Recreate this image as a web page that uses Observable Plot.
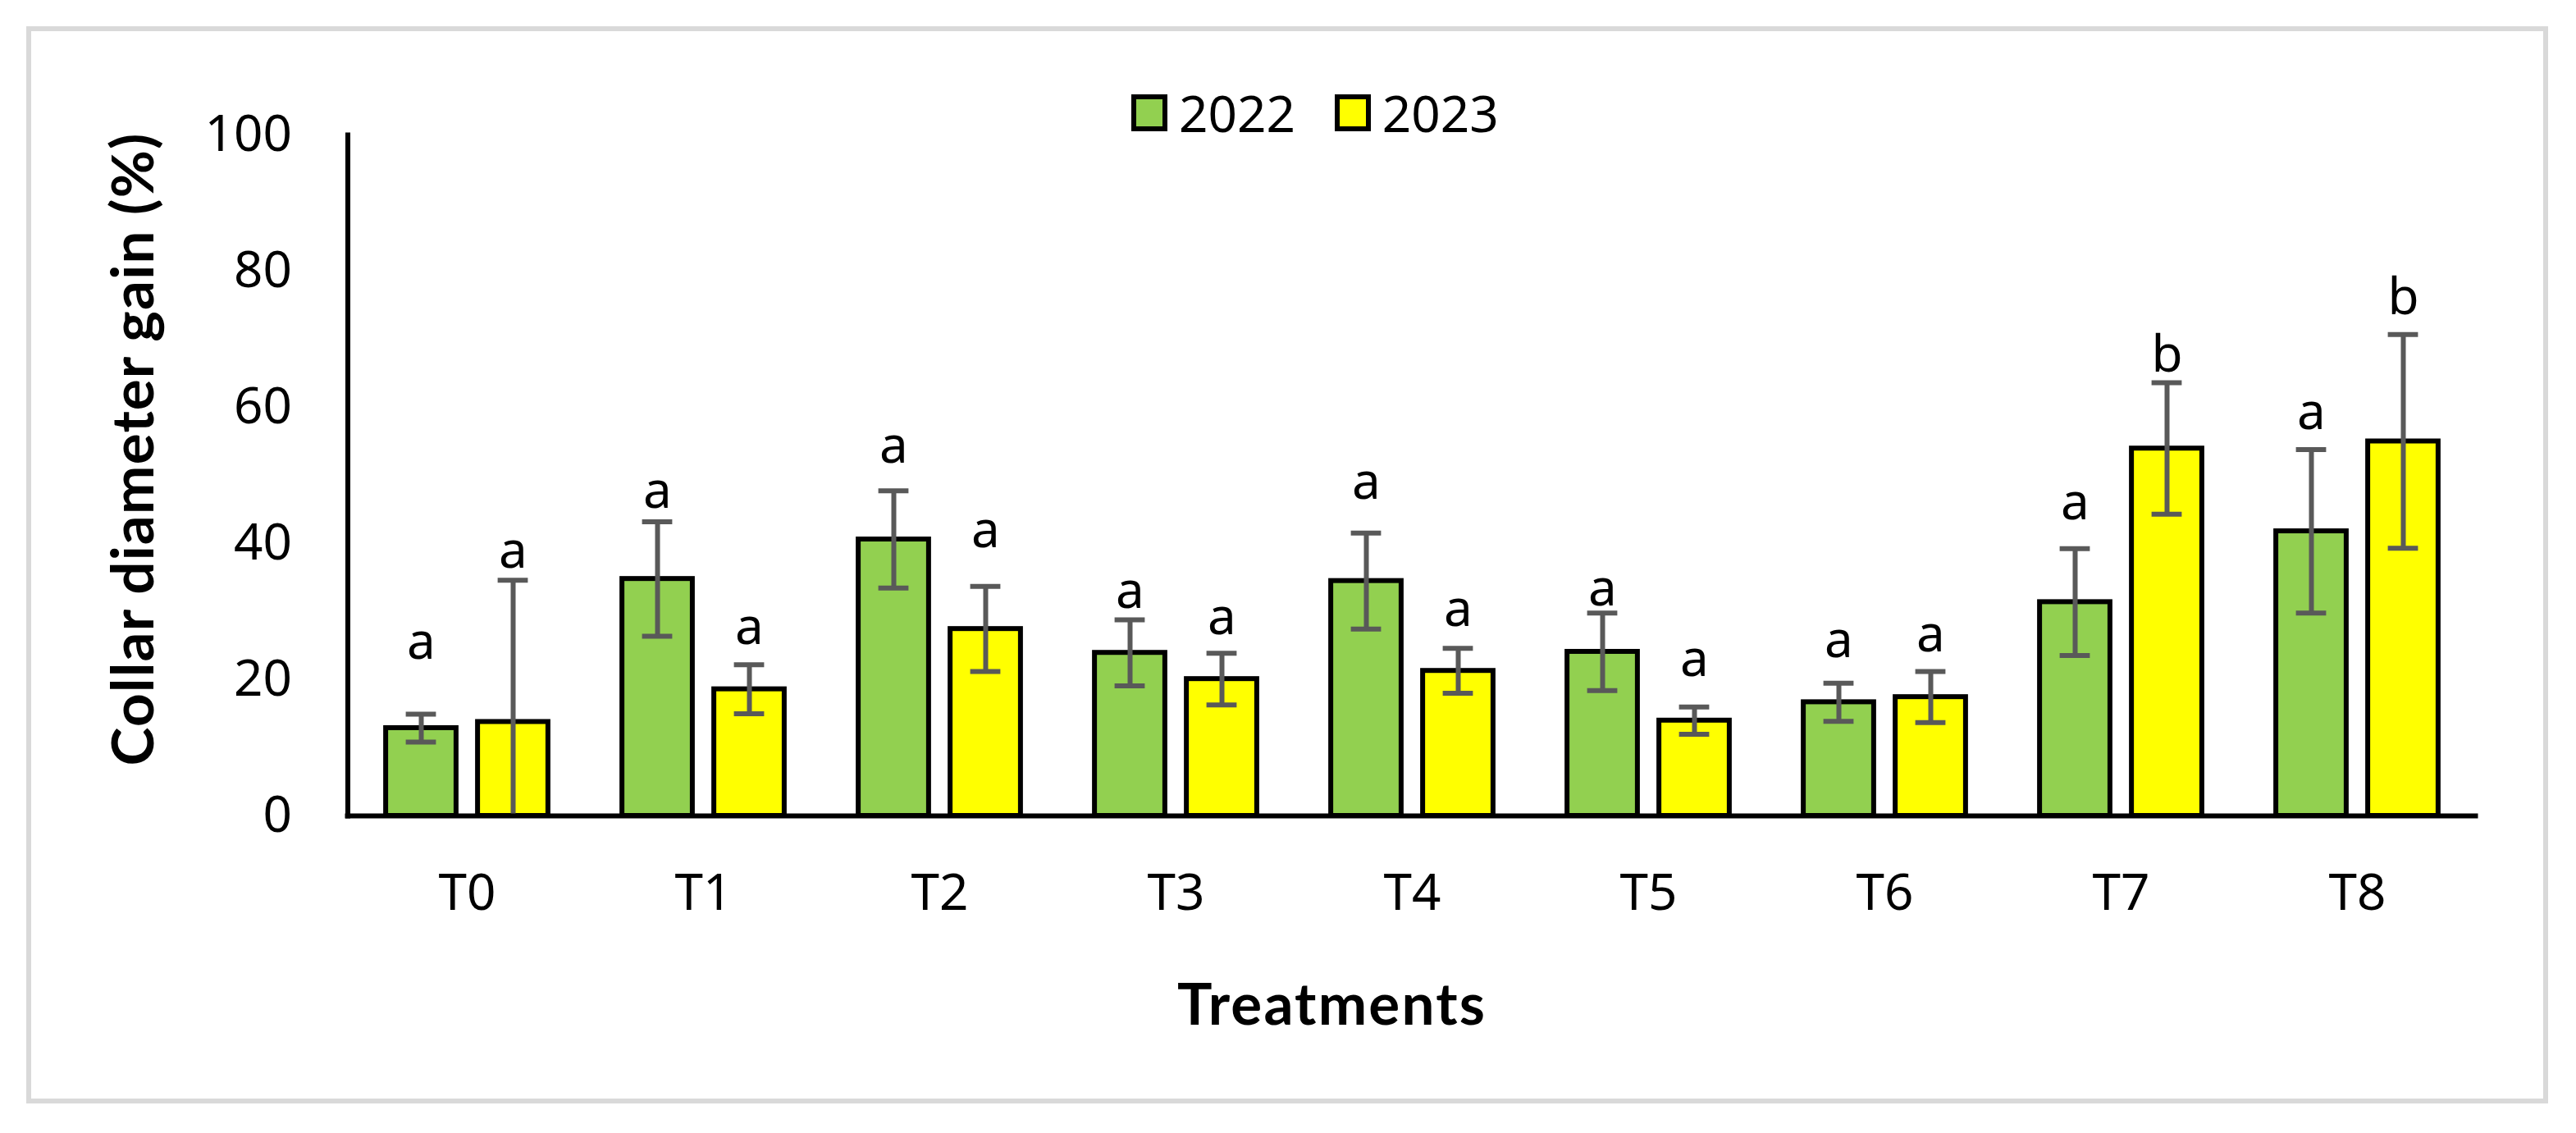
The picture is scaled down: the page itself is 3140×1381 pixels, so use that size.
<!DOCTYPE html>
<html>
<head>
<meta charset="utf-8">
<script src="https://cdn.jsdelivr.net/npm/d3@7"></script>
<script src="https://cdn.jsdelivr.net/npm/@observablehq/plot@0.6"></script>
<style>
html, body { margin: 0; padding: 0; background: #fff; }
#wrap { position: relative; width: 3140px; height: 1381px; overflow: hidden; background: #fff; }
#frame { position: absolute; left: 32px; top: 32px; width: 3074px; height: 1313px; border: 6px solid #d9d9d9; box-sizing: border-box; }
#chart { position: absolute; left: 0; top: 0; }
#legend { position: absolute; left: 1382px; top: 107px; height: 60px; display: flex; align-items: center; }
#legend .lg-swatches { margin: 0 !important; font-family: "Noto Sans", sans-serif !important; font-size: 62px !important; color: #000 !important; min-height: 0 !important; }
#legend .lg-swatch { margin-right: 51px !important; }
#legend .lg-swatch > svg { margin-right: 17px !important; overflow: visible !important; }
#legend .lg-swatch > svg rect { stroke: #000; stroke-width: 6px; }
</style>
</head>
<body>
<div id="wrap">
  <div id="frame"></div>
  <div id="chart"></div>
  <div id="legend"></div>
</div>
<script>
// ---- data ----
const treatments = ["T0", "T1", "T2", "T3", "T4", "T5", "T6", "T7", "T8"];
const years = ["2022", "2023"];
const colors = ["#92D050", "#FFFF00"];
const mean2022 = [12.9, 34.8, 40.6, 23.95, 34.5, 24.1, 16.7, 31.4, 41.8];
const err2022 = [2.05, 8.4, 7.15, 4.85, 7.05, 5.7, 2.8, 7.85, 12.0];
const mean2023 = [13.8, 18.6, 27.45, 20.1, 21.3, 14.0, 17.45, 53.95, 55.0];
const err2023 = [20.8, 3.6, 6.25, 3.8, 3.3, 2.0, 3.75, 9.65, 15.7];
const letters2022 = ["a", "a", "a", "a", "a", "a", "a", "a", "a"];
const letters2023 = ["a", "a", "a", "a", "a", "a", "a", "b", "b"];
const letterAt2022 = [23.1, 45.3, 51.9, 30.5, 46.6, 30.9, 23.3, 43.5, 56.8];
const letterAt2023 = [36.4, 25.2, 39.5, 26.7, 27.9, 20.6, 24.1, 65.2, 73.7];
const yTicks = [0, 20, 40, 60, 80, 100];
const xTitle = "Treatments";
const yTitle = "Collar diameter gain (%)";

// ---- layout ----
const W = 3140, H = 1381;
const mL = 423.5, mR = 122.5, mT = 164, mB = 387;
const band = (W - mL - mR) / treatments.length;
const barW = 86, capW = 37, offset = 56;
const barInset = (band - barW) / 2;
const capInset = (band - capW) / 2;

const series = [
  {year: years[0], mean: mean2022, err: err2022, letters: letters2022, at: letterAt2022, dx: -offset},
  {year: years[1], mean: mean2023, err: err2023, letters: letters2023, at: letterAt2023, dx: offset}
];

const marks = [];
for (const s of series) {
  const rows = treatments.map((t, i) => ({
    t, year: s.year, v: s.mean[i], e: s.err[i],
    lo: Math.max(0, s.mean[i] - s.err[i]), hi: s.mean[i] + s.err[i],
    letter: s.letters[i], ly: s.at[i]
  }));
  marks.push(Plot.barY(rows, {x: "t", y: "v", fill: "year", stroke: "#000", strokeWidth: 6,
    insetLeft: barInset, insetRight: barInset, dx: s.dx}));
  marks.push(Plot.ruleX(rows, {x: "t", y1: "lo", y2: "hi", dx: s.dx, stroke: "#595959", strokeWidth: 6}));
  marks.push(Plot.tickY(rows, {x: "t", y: "hi", dx: s.dx, insetLeft: capInset, insetRight: capInset, stroke: "#595959", strokeWidth: 6}));
  marks.push(Plot.tickY(rows.filter(d => d.v - d.e > 0), {x: "t", y: "lo", dx: s.dx, insetLeft: capInset, insetRight: capInset, stroke: "#595959", strokeWidth: 6}));
  marks.push(Plot.text(rows, {x: "t", y: "ly", text: "letter", dx: s.dx, lineAnchor: "bottom", fontSize: 62, fill: "#000"}));
}

const chart = Plot.plot({
  width: W, height: H,
  marginLeft: mL, marginRight: mR, marginTop: mT, marginBottom: mB,
  x: {domain: treatments, padding: 0},
  y: {domain: [0, 100]},
  color: {domain: years, range: colors},
  style: {fontFamily: "'Noto Sans', sans-serif", fontSize: "62px", color: "#000", background: "transparent", overflow: "visible"},
  marks: [
    ...marks,
    Plot.ruleY([0], {stroke: "#000", strokeWidth: 6, strokeLinecap: "square"}),
    Plot.frame({anchor: "left", stroke: "#000", strokeWidth: 6, strokeLinecap: "square"}),
    Plot.axisX({tickSize: 0, tickPadding: 70, fontSize: 62, label: null}),
    Plot.axisY({ticks: yTicks, tickSize: 0, tickPadding: 68, fontSize: 62, label: null}),
    Plot.text([xTitle], {text: d => d, frameAnchor: "bottom", textAnchor: "middle", dx: -98.5, dy: 254, lineAnchor: "bottom",
      fontFamily: "Lato, sans-serif", fontWeight: "bold", fontSize: 71, fill: "#000"}),
    Plot.text([yTitle], {text: d => d, frameAnchor: "left", textAnchor: "middle", lineAnchor: "middle", rotate: -90, dx: -259.8, dy: -31.5,
      fontFamily: "Lato, sans-serif", fontWeight: "bold", fontSize: 71, fill: "#000"})
  ]
});
// stretch the two titles to the reference's measured text lengths
d3.select(chart).selectAll("text").each(function () {
  const t = this.textContent;
  if (t === xTitle) d3.select(this).attr("textLength", 375).attr("lengthAdjust", "spacing");
  if (t === yTitle) d3.select(this).attr("textLength", 771).attr("lengthAdjust", "spacing");
});
document.getElementById("chart").appendChild(chart);

const legend = Plot.legend({
  color: {domain: years, range: colors},
  className: "lg",
  swatchWidth: 38, swatchHeight: 39
});
document.getElementById("legend").appendChild(legend);
</script>
</body>
</html>
